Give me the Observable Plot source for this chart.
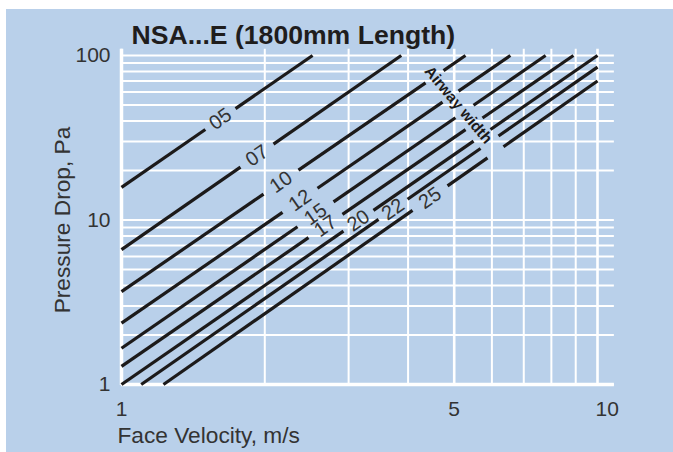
<!DOCTYPE html>
<html>
<head>
<meta charset="utf-8">
<script src="https://cdn.jsdelivr.net/npm/d3@7"></script>
<script src="https://cdn.jsdelivr.net/npm/@observablehq/plot@0.6"></script>
<style>
  html, body { margin: 0; padding: 0; background: #ffffff; }
  #panel { position: absolute; left: 6px; top: 9px; width: 667px; height: 443px; background: #b9d0ea; }
  #panel svg { display: block; }
</style>
</head>
<body>
<div id="panel"></div>
<script>
// ---- data ----
const lineNames   = ["05", "07", "10", "12", "15", "17", "20", "22", "25"];
const startV      = [1, 1, 1, 1, 1, 1, 1, 1.1, 1.225];
const startP      = [15.8, 6.6, 3.67, 2.36, 1.66, 1.29, 1, 1, 1];
const endV        = [2.52, 3.87, 5.28, 6.56, 7.78, 8.9, 10, 10, 10];
const endP        = [100, 100, 100, 100, 100, 100, 100, 85, 70];
const labelGapFrom  = [1.50, 1.778, 1.988, 2.179, 2.343, 2.471, 2.926, 3.467, 4.087];
const labelGapTo    = [1.736, 2.086, 2.354, 2.581, 2.789, 2.912, 3.383, 3.990, 4.841];
const airwayGapFrom = [null, null, 4.353, 4.725, 5.030, 5.282, 5.490, 5.679, 5.874];
const airwayGapTo   = [null, null, 4.748, 5.105, 5.490, 5.733, 5.960, 6.194, 6.346];
const airwayLabel = {v: 5.1, p: 50, text: "Airway width"};
const xTicks = [1, 5, 10];
const yTicks = [1, 10, 100];
const xGrid = [1, 2, 3, 4, 5, 6, 7, 8, 9, 10];
const yGrid = [1, 2, 3, 4, 5, 6, 7, 8, 9, 10, 20, 30, 40, 50, 60, 70, 80, 90, 100];
const titleText = "NSA...E (1800mm Length)";
const xTitle = "Face Velocity, m/s";
const yTitle = "Pressure Drop, Pa";

// ---- helpers: point on each straight (log-log) line between its read endpoints ----
const L = Math.log10;
function pAt(i, v) {
  const t = (L(v) - L(startV[i])) / (L(endV[i]) - L(startV[i]));
  return 10 ** (L(startP[i]) + t * (L(endP[i]) - L(startP[i])));
}
const segments = [];
const labels = [];
lineNames.forEach((name, i) => {
  const cuts = [[labelGapFrom[i], labelGapTo[i]]];
  if (airwayGapFrom[i] != null) cuts.push([airwayGapFrom[i], airwayGapTo[i]]);
  cuts.sort((a, b) => a[0] - b[0]);
  let v = startV[i];
  for (const [a, b] of cuts) {
    segments.push({v1: v, p1: pAt(i, v), v2: a, p2: pAt(i, a)});
    v = b;
  }
  segments.push({v1: v, p1: pAt(i, v), v2: endV[i], p2: pAt(i, endV[i])});
  const vm = Math.sqrt(labelGapFrom[i] * labelGapTo[i]);
  labels.push({v: vm, p: pAt(i, vm), name});
});

const font = "'Liberation Sans', Arial, Helvetica, sans-serif";
const textColor = "#333333";

const chart = Plot.plot({
  width: 667,
  height: 443,
  marginLeft: 115,
  marginRight: 76,
  marginTop: 46,
  marginBottom: 68,
  x: {type: "log", domain: [1, 10], axis: null},
  y: {type: "log", domain: [1, 100], axis: null},
  style: {background: "transparent", fontFamily: font},
  marks: [
    // grid
    Plot.ruleY(yGrid, {y: d => d, x1: 1, x2: 10.85, stroke: "#ffffff", strokeWidth: 2}),
    Plot.ruleX(xGrid, {x: d => d, y1: 1, y2: 109, stroke: "#ffffff", strokeWidth: d => (d === 5 || d === 10) ? 2.6 : 2}),
    Plot.ruleX([1], {x: d => d, y1: 0.985, y2: 109, stroke: "#ffffff", strokeWidth: 3.5}),
    Plot.ruleY([1], {y: d => d, x1: 1, x2: 10.85, stroke: "#ffffff", strokeWidth: 3.5}),
    // curves
    Plot.link(segments, {x1: "v1", y1: "p1", x2: "v2", y2: "p2", stroke: "#1c1a1a", strokeWidth: 3.2, strokeLinecap: "butt"}),
    // curve labels
    Plot.text(labels, {x: "v", y: "p", text: "name", rotate: -35, fontSize: 20, fill: textColor}),
    Plot.text([airwayLabel], {x: "v", y: "p", text: "text", rotate: 50, fontSize: 15.5, fontWeight: "bold", fill: "#1c1a1a"}),
    // tick labels
    Plot.text(xTicks.filter(d => d !== 10), {x: d => d, y: 1, text: d => String(d), dy: 25, fontSize: 21, fill: textColor, textAnchor: "middle"}),
    Plot.text(xTicks.filter(d => d === 10), {x: d => d, y: 1, text: d => String(d), dy: 25, dx: -2, fontSize: 21, fill: textColor, textAnchor: "start"}),
    Plot.text(yTicks, {x: 1, y: d => d, text: d => String(d), dx: -11, fontSize: 21, fill: textColor, textAnchor: "end"}),
    // axis titles
    Plot.text([xTitle], {frameAnchor: "bottom-left", text: d => d, dx: -4, dy: 58, fontSize: 22.7, fill: textColor, textAnchor: "start", lineAnchor: "bottom"}),
    Plot.text([yTitle], {frameAnchor: "left", text: d => d, dx: -59, rotate: -90, fontSize: 22.7, fill: textColor, textAnchor: "middle"}),
    // title
    Plot.text([titleText], {frameAnchor: "top-left", text: d => d, dx: 10, dy: -12, fontSize: 26.6, fontWeight: "bold", fill: "#1f1d1d", textAnchor: "start", lineAnchor: "bottom"})
  ]
});
document.getElementById("panel").appendChild(chart);
</script>
</body>
</html>
